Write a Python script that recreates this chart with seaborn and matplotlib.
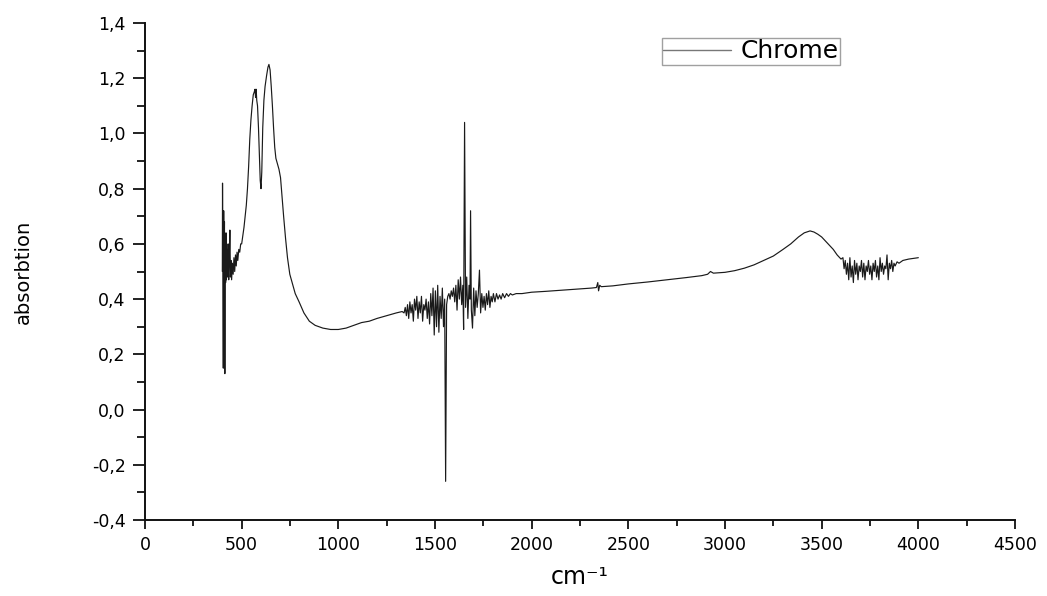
import matplotlib
matplotlib.use("Agg")
import matplotlib.pyplot as plt
import seaborn as sns
import pandas as pd
from matplotlib.ticker import MultipleLocator, FuncFormatter

# ---- data ----
wn_low = [400, 401, 403, 405, 407, 409, 411, 413, 415, 417, 419, 421, 424, 427, 430, 433,
          436, 439, 442, 445, 448, 452, 456, 460, 464, 468, 472, 476, 480, 485, 490, 495,
          500, 506, 512, 518, 524, 530, 536, 542, 548, 554, 560, 565, 569, 572, 575, 578,
          582, 587, 592, 596, 600, 604, 609, 615, 621, 629, 636, 641, 647, 653, 659, 665,
          671, 677, 685, 693, 701, 709, 717, 727, 737, 749, 761, 777, 797, 822, 850, 880,
          920, 960, 1000, 1040, 1080, 1120, 1160, 1200, 1250, 1300, 1330]
ab_low = [0.50, 0.82, 0.45, 0.15, 0.72, 0.48, 0.68, 0.13, 0.62, 0.46, 0.64, 0.47, 0.58, 0.48, 0.60, 0.47,
          0.55, 0.65, 0.48, 0.54, 0.47, 0.53, 0.49, 0.55, 0.50, 0.56, 0.52, 0.57, 0.54, 0.58, 0.57, 0.60,
          0.60, 0.63, 0.66, 0.70, 0.74, 0.80, 0.88, 0.98, 1.05, 1.10, 1.14, 1.15, 1.16, 1.13, 1.16, 1.12,
          1.10, 1.02, 0.92, 0.83, 0.80, 0.86, 1.02, 1.12, 1.17, 1.21, 1.24, 1.25, 1.23, 1.17, 1.10, 1.02,
          0.95, 0.91, 0.89, 0.87, 0.84, 0.77, 0.70, 0.62, 0.55, 0.49, 0.46, 0.42, 0.39, 0.35, 0.32, 0.305,
          0.295, 0.29, 0.29, 0.295, 0.305, 0.315, 0.32, 0.33, 0.34, 0.35, 0.355]

wn_mid = [1340, 1346, 1352, 1358, 1364, 1370, 1376, 1382, 1388, 1394, 1400, 1406, 1412, 1418, 1424, 1430,
          1436, 1442, 1448, 1454, 1460, 1466, 1472, 1478, 1484, 1490, 1496, 1502, 1508, 1514, 1520, 1526,
          1532, 1538, 1544, 1550, 1555, 1560, 1566, 1572, 1578, 1584, 1590, 1596, 1602, 1608, 1614, 1620,
          1626, 1632, 1638, 1644, 1648, 1653, 1658, 1664, 1670, 1676, 1681, 1684, 1688, 1694, 1700, 1706,
          1712, 1718, 1724, 1730, 1736, 1742, 1748, 1754, 1760, 1766, 1772, 1778, 1784, 1790, 1796, 1802,
          1810, 1818, 1826, 1834, 1842, 1850, 1860, 1870, 1880, 1890, 1900, 1920, 1950]
ab_mid = [0.35, 0.37, 0.34, 0.38, 0.33, 0.39, 0.35, 0.38, 0.32, 0.40, 0.36, 0.41, 0.33, 0.39, 0.35, 0.41,
          0.32, 0.38, 0.36, 0.40, 0.33, 0.39, 0.31, 0.42, 0.34, 0.44, 0.27, 0.43, 0.30, 0.45, 0.28, 0.41,
          0.33, 0.44, 0.30, 0.40, -0.26, 0.38, 0.41, 0.42, 0.40, 0.43, 0.41, 0.44, 0.39, 0.45, 0.36, 0.47,
          0.40, 0.48, 0.38, 0.45, 0.29, 1.04, 0.37, 0.48, 0.33, 0.45, 0.40, 0.72, 0.36, 0.295, 0.44, 0.34,
          0.43, 0.37, 0.42, 0.505, 0.35, 0.42, 0.37, 0.41, 0.36, 0.42, 0.38, 0.43, 0.37, 0.41, 0.39, 0.42,
          0.39, 0.42, 0.40, 0.415, 0.40, 0.42, 0.405, 0.42, 0.41, 0.42, 0.415, 0.42, 0.42]

wn_high = [2000, 2070, 2150, 2230, 2310, 2335, 2342, 2346, 2352, 2360, 2420, 2500, 2600, 2700, 2800, 2880,
           2910, 2925, 2940, 3000, 3050, 3100, 3150, 3200, 3250, 3300, 3340, 3380, 3410, 3440, 3460, 3480,
           3500, 3520, 3540, 3560, 3580, 3600, 3610, 3616, 3622, 3628, 3634, 3640, 3646, 3652, 3658, 3664,
           3670, 3676, 3682, 3688, 3694, 3700, 3706, 3712, 3718, 3724, 3730, 3736, 3742, 3748, 3754, 3760,
           3766, 3772, 3778, 3784, 3790, 3796, 3802, 3808, 3814, 3820, 3826, 3832, 3838, 3844, 3850, 3856,
           3862, 3868, 3874, 3880, 3890, 3900, 3920, 3950, 3980, 4000]
ab_high = [0.425, 0.428, 0.432, 0.436, 0.44, 0.442, 0.46, 0.43, 0.45, 0.445, 0.448, 0.455, 0.462, 0.47, 0.478, 0.485,
           0.49, 0.50, 0.494, 0.497, 0.503, 0.512, 0.524, 0.54, 0.556, 0.58, 0.60, 0.625, 0.64, 0.647, 0.643, 0.635,
           0.625, 0.61, 0.595, 0.58, 0.56, 0.545, 0.55, 0.51, 0.54, 0.49, 0.53, 0.47, 0.55, 0.48, 0.52, 0.46,
           0.54, 0.49, 0.53, 0.47, 0.52, 0.50, 0.54, 0.48, 0.53, 0.47, 0.52, 0.50, 0.54, 0.49, 0.52, 0.47,
           0.53, 0.50, 0.54, 0.48, 0.52, 0.47, 0.55, 0.50, 0.53, 0.49, 0.52, 0.51, 0.56, 0.47, 0.53, 0.51,
           0.54, 0.50, 0.53, 0.52, 0.535, 0.53, 0.54, 0.545, 0.548, 0.55]

series_name = "Chrome"
x_label = "cm\u207b\u00b9"
y_label = "absorbtion"

df = pd.DataFrame({
    "wn": wn_low + wn_mid + wn_high,
    "ab": ab_low + ab_mid + ab_high,
})
df["sample"] = series_name

# ---- style ----
sns.set_style("ticks")
plt.rcParams["font.family"] = ["DejaVu Sans"]
plt.rcParams["text.color"] = "black"
plt.rcParams["axes.labelcolor"] = "black"

fig = plt.figure(figsize=(10.47, 5.96), dpi=100)
ax = fig.add_axes([145 / 1047, 76 / 596, 870 / 1047, 497 / 596])

sns.lineplot(data=df, x="wn", y="ab", hue="sample", palette=["#1a1a1a"],
             estimator=None, sort=False, linewidth=0.85, ax=ax)

ax.set_xlim(0, 4500)
ax.set_ylim(-0.4, 1.4)
ax.xaxis.set_major_locator(MultipleLocator(500))
ax.xaxis.set_minor_locator(MultipleLocator(250))
ax.yaxis.set_major_locator(MultipleLocator(0.2))
ax.yaxis.set_minor_locator(MultipleLocator(0.1))
ax.yaxis.set_major_formatter(FuncFormatter(lambda v, p: f"{v:.1f}".replace(".", ",").replace("-0,0", "0,0")))
ax.xaxis.set_major_formatter(FuncFormatter(lambda v, p: f"{int(round(v))}"))

for s in ["top", "right"]:
    ax.spines[s].set_visible(False)
for s in ["left", "bottom"]:
    ax.spines[s].set_linewidth(1.4)
    ax.spines[s].set_color("#111111")

ax.tick_params(axis="x", which="major", direction="out", length=6.5, width=1.3,
               labelsize=12.5, pad=5, color="#111111", labelcolor="black")
ax.tick_params(axis="x", which="minor", direction="out", length=4.3, width=1.3, color="#111111")
ax.tick_params(axis="y", which="major", direction="out", length=9, width=1.3,
               labelsize=12.5, pad=5, color="#111111", labelcolor="black")
ax.tick_params(axis="y", which="minor", direction="out", length=5.5, width=1.3, color="#111111")

ax.set_xlabel(x_label, fontsize=17, labelpad=8, color="black")
ax.set_ylabel(y_label, fontsize=14, labelpad=42, color="black")

leg = ax.legend(loc="upper left", bbox_to_anchor=((662 - 145) / 870, (520 - 38) / 497),
                frameon=True, fancybox=False, fontsize=18, handlelength=2.7,
                handletextpad=0.4, borderpad=0.05, borderaxespad=0, title=None)
leg.get_frame().set_edgecolor("#888888")
leg.get_frame().set_linewidth(1.0)
for t in leg.get_texts():
    t.set_color("black")
for h in leg.get_lines():
    h.set_color("#777777")
    h.set_linewidth(1.0)

fig.savefig("out.png", dpi=100, facecolor="white")
